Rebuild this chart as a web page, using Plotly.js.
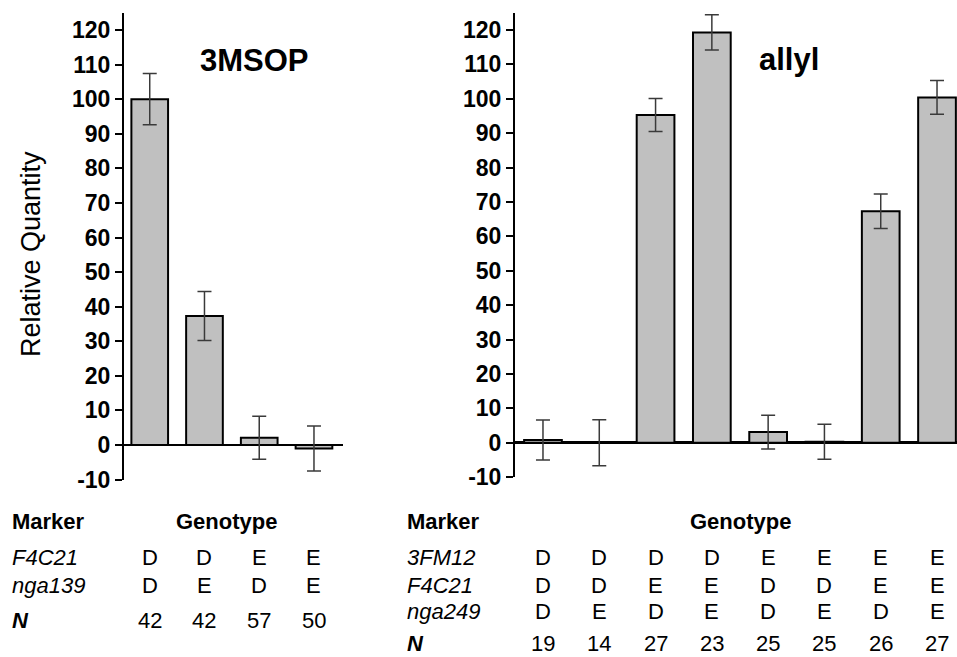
<!DOCTYPE html>
<html>
<head>
<meta charset="utf-8">
<script src="https://cdn.plot.ly/plotly-3.0.1.min.js"></script>
<style>
  html, body { margin: 0; padding: 0; background: #ffffff; }
  #chart { width: 957px; height: 657px; }
</style>
</head>
<body>
<div id="chart"></div>
<script>
// ---------- data ----------
const msopTitle = "3MSOP";
const msopValues = [100, 37.3, 2.1, -1.0];
const msopErrors = [7.4, 7.1, 6.2, 6.5];
const msopMarkers = ["F4C21", "nga139"];
const msopGenotypes = [
  ["D", "D", "E", "E"],
  ["D", "E", "D", "E"]
];
const msopN = [42, 42, 57, 50];

const allylTitle = "allyl";
const allylValues = [0.8, 0, 95.3, 119.3, 3.1, 0.3, 67.3, 100.4];
const allylErrors = [5.8, 6.7, 4.8, 5.1, 4.9, 5.1, 5.0, 4.9];
const allylMarkers = ["3FM12", "F4C21", "nga249"];
const allylGenotypes = [
  ["D", "D", "D", "D", "E", "E", "E", "E"],
  ["D", "D", "E", "E", "D", "D", "E", "E"],
  ["D", "E", "D", "E", "D", "E", "D", "E"]
];
const allylN = [19, 14, 27, 23, 25, 25, 26, 27];

const yTickVals = [-10, 0, 10, 20, 30, 40, 50, 60, 70, 80, 90, 100, 110, 120];
const yTickText = ["-10", "0", "10", "20", "30", "40", "50", "60", "70", "80", "90", "100", "110", "120"];
const yAxisTitle = "Relative Quantity";

// ---------- layout helpers ----------
const W = 957, H = 657;
const FONT = "Liberation Sans, Arial, Helvetica, sans-serif";
const TABLE_SIZE = 22;
const py = px => (H - px) / H;   // pixel row -> paper y
const pxx = px => px / W;        // pixel column -> paper x

const barStyle = {
  color: "#c0c0c0",
  line: { color: "#000000", width: 2 }
};
const errStyle = (arr) => ({
  type: "data", array: arr, visible: true,
  color: "#3a3a3a", thickness: 1.5, width: 7
});

const idx = n => Array.from({ length: n }, (_, i) => i);

const traces = [
  {
    type: "bar", x: idx(msopValues.length), y: msopValues,
    marker: barStyle, error_y: errStyle(msopErrors),
    xaxis: "x", yaxis: "y", width: 0.67, hoverinfo: "y", showlegend: false
  },
  {
    type: "bar", x: idx(allylValues.length), y: allylValues,
    marker: barStyle, error_y: errStyle(allylErrors),
    xaxis: "x2", yaxis: "y2", width: 0.67, hoverinfo: "y", showlegend: false
  }
];

const yAxisCommon = {
  range: [-10, 125],
  tickmode: "array", tickvals: yTickVals, ticktext: yTickText,
  ticks: "outside", ticklen: 7, tickwidth: 2, tickcolor: "#000",
  showline: true, linecolor: "#000", linewidth: 2,
  showgrid: false,
  zeroline: true, zerolinecolor: "#000", zerolinewidth: 2.5,
  tickfont: { family: FONT, size: 23, color: "#000", weight: "bold" },
  fixedrange: true
};

const annotations = [];
function txt(text, x, y, xref, opts) {
  annotations.push(Object.assign({
    text: text, x: x, y: y, xref: xref, yref: "paper",
    showarrow: false, xanchor: "center", yanchor: "middle",
    font: { family: FONT, size: TABLE_SIZE, color: "#000" }
  }, opts || {}));
}

// panel titles (in data coordinates)
annotations.push({
  text: "<b>" + msopTitle + "</b>", x: 1.92, y: 111.3, xref: "x", yref: "y",
  showarrow: false, xanchor: "center", yanchor: "middle",
  font: { family: FONT, size: 31, color: "#000" }
});
annotations.push({
  text: "<b>" + allylTitle + "</b>", x: 4.37, y: 111.3, xref: "x2", yref: "y2",
  showarrow: false, xanchor: "center", yanchor: "middle",
  font: { family: FONT, size: 31, color: "#000" }
});

// y-axis title
txt(yAxisTitle, pxx(31), py(254), "paper", { textangle: -90, font: { family: FONT, size: 27, color: "#000" } });

// ---- left table ----
const leftRows = [557.7, 585];
txt("<b>Marker</b>", pxx(10), py(521.7), "paper", { xanchor: "left" });
txt("<b>Genotype</b>", 1.4, py(521.7), "x");
msopMarkers.forEach((m, r) => {
  txt("<i>" + m + "</i>", pxx(10), py(leftRows[r]), "paper", { xanchor: "left" });
  msopGenotypes[r].forEach((g, c) => txt(g, c, py(leftRows[r]), "x"));
});
txt("<b><i>N</i></b>", pxx(10), py(620), "paper", { xanchor: "left" });
msopN.forEach((n, c) => txt(String(n), c, py(620), "x"));

// ---- right table ----
const rightRows = [557, 585, 611.7];
txt("<b>Marker</b>", pxx(405), py(521.7), "paper", { xanchor: "left" });
txt("<b>Genotype</b>", 3.5, py(521.7), "x2");
allylMarkers.forEach((m, r) => {
  txt("<i>" + m + "</i>", pxx(405), py(rightRows[r]), "paper", { xanchor: "left" });
  allylGenotypes[r].forEach((g, c) => txt(g, c, py(rightRows[r]), "x2"));
});
txt("<b><i>N</i></b>", pxx(405), py(643.3), "paper", { xanchor: "left" });
allylN.forEach((n, c) => txt(String(n), c, py(643.3), "x2"));

const layout = {
  width: W, height: H,
  margin: { l: 0, r: 0, t: 0, b: 0, pad: 0 },
  paper_bgcolor: "#ffffff", plot_bgcolor: "rgba(0,0,0,0)",
  showlegend: false,
  font: { family: FONT, color: "#000" },
  xaxis: {
    domain: [124 / W, 343 / W], range: [-0.47, 3.53],
    visible: false, fixedrange: true
  },
  xaxis2: {
    domain: [515 / W, 1], range: [-0.497, 7.355],
    visible: false, fixedrange: true, anchor: "y2"
  },
  yaxis: Object.assign({}, yAxisCommon, {
    domain: [py(479.6), py(12.7)], anchor: "x"
  }),
  yaxis2: Object.assign({}, yAxisCommon, {
    domain: [py(477.1), py(12.8)], anchor: "x2"
  }),
  annotations: annotations
};

Plotly.newPlot("chart", traces, layout, { displayModeBar: false, staticPlot: true });
</script>
</body>
</html>
